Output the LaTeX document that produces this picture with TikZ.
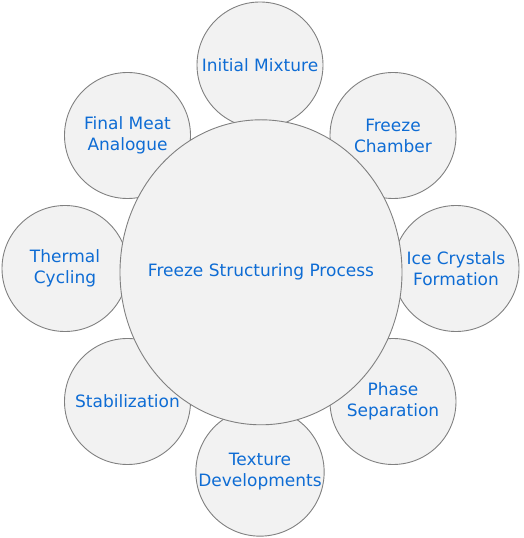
\documentclass[tikz,border=0pt]{standalone}
\usepackage{fontspec}
\setmainfont{DejaVu Sans}
\usetikzlibrary{shapes.geometric}
\definecolor{txtblue}{RGB}{14,108,212}
\definecolor{fillgray}{RGB}{242,242,242}
\definecolor{linegray}{RGB}{128,128,128}
\tikzset{
  small/.style={circle, draw=linegray, fill=fillgray, line width=0.9pt, minimum size=126pt, inner sep=0pt,
    text=txtblue, align=center, font=\fontsize{17}{21}\selectfont},
  big/.style={ellipse, draw=linegray, fill=fillgray, line width=0.9pt, minimum width=282pt, minimum height=305pt, inner sep=0pt},
  bigtext/.style={text=txtblue, align=center, font=\fontsize{17}{21}\selectfont, inner sep=0pt}
}
\begin{document}
\begin{tikzpicture}[x=1pt,y=1pt]
\useasboundingbox (0,0) rectangle (524,538);
\node[small] (init) at (260,538-65) {Initial Mixture};
\node[small] (chamber) at (393,538-135.5) {Freeze\\Chamber};
\node[small] (ice) at (456,538-268.5) {Ice Crystals\\Formation};
\node[small] (phase) at (393,538-401.5) {Phase\\Separation};
\node[small] (texture) at (260,538-472) {Texture\\Developments};
\node[small] (stab) at (127.5,538-401.5) {Stabilization};
\node[small] (thermal) at (65,538-268.5) {Thermal\\Cycling};
\node[small] (final) at (127.5,538-135.5) {Final Meat\\Analogue};
\node[big] (center) at (261,538-272.3) {};
\node[bigtext] (centertext) at (center.center) {Freeze Structuring Process};
\end{tikzpicture}
\end{document}
